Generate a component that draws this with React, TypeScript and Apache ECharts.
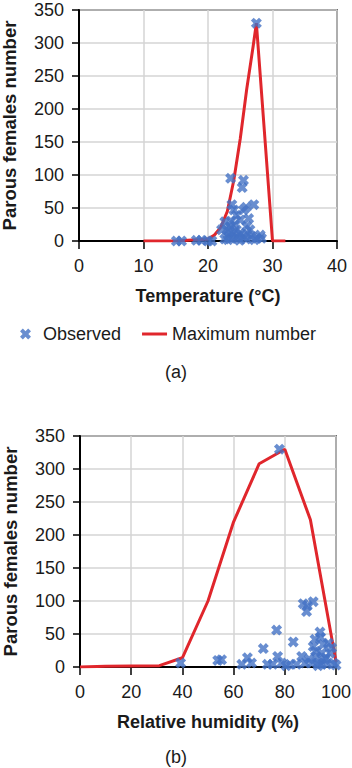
import React, { useEffect, useRef } from "react";
import * as echarts from "echarts";

const tempTicks = [0, 10, 20, 30, 40];
const humTicks = [0, 20, 40, 60, 80, 100];
const yTicks = [0, 50, 100, 150, 200, 250, 300, 350];

const tempMax: [number, number][] = [
  [10, 0], [15, 0], [20, 3], [21, 9], [22, 21], [23, 45], [24, 92],
  [25, 155], [26, 230], [27, 295], [27.5, 330], [30, 0], [32, 0],
];

const tempObs: [number, number][] = [
  [15.1, 0], [15.9, 0], [18.2, 1], [19.0, 1], [20.0, 0], [20.6, 0],
  [23.5, 95], [25.5, 92], [25.3, 81], [23.7, 55], [24.0, 47], [25.5, 47],
  [25.9, 51], [27.1, 55], [26.3, 34], [25.0, 32], [24.4, 39], [22.6, 29],
  [22.1, 17], [22.9, 17], [23.4, 22], [23.9, 12], [24.4, 17], [25.0, 12],
  [23.2, 7], [23.7, 4], [24.4, 4], [25.5, 6], [26.5, 17], [26.8, 7],
  [27.6, 4], [28.3, 4], [28.1, 9], [25.9, 3], [22.6, 3], [27.5, 330],
  [23.1, 2], [24.1, 25], [24.7, 8], [23.6, 30], [26.1, 10], [27.2, 2],
  [24.9, 1], [23.3, 14], [26.0, 22],
];

const humMax: [number, number][] = [
  [0, 0], [10, 1], [20, 1.5], [31, 2], [40, 14], [50, 100], [60, 220],
  [70, 308], [80, 330], [90, 223], [100, 8],
];

const humObs: [number, number][] = [
  [39.3, 6], [53.8, 10], [55.3, 11], [63.2, 4], [65.4, 14], [67, 6],
  [71.6, 28], [73.2, 4], [75.3, 4], [76.8, 56], [77.2, 16], [77.9, 330],
  [78.8, 6], [80.5, 2], [82, 4], [83.3, 38], [84.6, 4], [86.6, 16],
  [87.9, 6], [87.2, 96], [88.5, 84], [88.8, 93], [91.1, 99], [90.5, 6],
  [91.1, 31], [91.8, 42], [93.75, 53], [94, 45], [95, 34], [92.4, 16],
  [93.1, 6], [94.4, 21], [95.7, 11], [96.4, 4], [97.7, 21], [98.3, 29],
  [97, 36], [99, 6], [100, 3], [94.4, 4], [89.5, 12], [92, 24], [93, 2],
  [96, 14],
];

const xPath = "path://M0,2.6 L2.6,0 L5,2.4 L7.4,0 L10,2.6 L7.6,5 L10,7.4 L7.4,10 L5,7.6 L2.6,10 L0,7.4 L2.4,5 Z";
const linePath = "path://M0,0 L25,0 L25,3 L0,3 Z";
const BLUE = "#4472C4";
const RED = "#E0262C";
const FONT = "Liberation Sans";
const TXT = "#1a1a1a";

export default function App() {
  const ref = useRef<HTMLDivElement>(null);
  useEffect(() => {
    document.body.style.margin = "0";
    const chart = echarts.init(ref.current!, null, { renderer: "svg" });
    const xAxisBase = (gridIndex: number, ticks: number[], name: string) => ({
      type: "value" as const,
      gridIndex,
      min: ticks[0],
      max: ticks[ticks.length - 1],
      interval: ticks[1] - ticks[0],
      name,
      nameLocation: "middle" as const,
      nameGap: 46,
      nameTextStyle: { fontFamily: FONT, fontSize: 18, fontWeight: "bold", color: TXT },
      axisLine: { show: true, onZero: false, lineStyle: { color: "#000", width: 2 } },
      axisTick: { show: true, length: 8, lineStyle: { color: "#000", width: 1.5 } },
      axisLabel: { margin: 16, fontFamily: FONT, fontSize: 18, color: TXT },
      splitLine: { show: true, lineStyle: { color: "#d4d4d4", width: 1.5 } },
    });
    const yAxisBase = (gridIndex: number) => ({
      type: "value" as const,
      gridIndex,
      min: yTicks[0],
      max: yTicks[yTicks.length - 1],
      interval: yTicks[1] - yTicks[0],
      name: "Parous females number",
      nameLocation: "middle" as const,
      nameRotate: 90,
      nameGap: 60,
      nameTextStyle: { fontFamily: FONT, fontSize: 18.5, fontWeight: "bold", color: TXT },
      axisLine: { show: true, onZero: false, lineStyle: { color: "#000", width: 2 } },
      axisTick: { show: true, length: 7, lineStyle: { color: "#000", width: 1.5 } },
      axisLabel: { margin: 15, fontFamily: FONT, fontSize: 18, color: TXT },
      splitLine: { show: true, lineStyle: { color: "#d4d4d4", width: 1.5 } },
    });
    chart.setOption({
      animation: false,
      backgroundColor: "#fff",
      title: [
        { text: "(a)", left: "center", top: 363, padding: 0, textStyle: { fontFamily: FONT, fontSize: 18, fontWeight: "normal", color: TXT } },
        { text: "(b)", left: "center", top: 748, padding: 0, textStyle: { fontFamily: FONT, fontSize: 18, fontWeight: "normal", color: TXT } },
      ],
      legend: {
        left: 20,
        top: 325,
        padding: 0,
        itemWidth: 25,
        itemHeight: 11,
        itemGap: 21,
        symbolKeepAspect: true,
        textStyle: { fontFamily: FONT, fontSize: 18, color: TXT },
        data: [
          { name: "Observed", icon: xPath, itemStyle: { color: BLUE } },
          { name: "Maximum number", icon: linePath, itemStyle: { color: RED } },
        ],
      },
      grid: [
        { left: 79, top: 10, width: 258, height: 231, show: true, borderColor: "#000", borderWidth: 1.5, containLabel: false, outerBoundsMode: "none" },
        { left: 80, top: 436, width: 256, height: 231, show: true, borderColor: "#000", borderWidth: 1.5, containLabel: false, outerBoundsMode: "none" },
      ],
      xAxis: [
        xAxisBase(0, tempTicks, "Temperature (°C)"),
        xAxisBase(1, humTicks, "Relative humidity (%)"),
      ],
      yAxis: [yAxisBase(0), yAxisBase(1)],
      series: [
        {
          type: "line", name: "Maximum number", xAxisIndex: 0, yAxisIndex: 0,
          data: tempMax, showSymbol: false, symbol: "none",
          lineStyle: { color: RED, width: 3 }, itemStyle: { color: RED }, z: 2,
        },
        {
          type: "scatter", name: "Observed", xAxisIndex: 0, yAxisIndex: 0,
          data: tempObs, symbol: xPath, symbolSize: 11,
          itemStyle: { color: BLUE }, z: 3,
        },
        {
          type: "line", name: "Maximum number", xAxisIndex: 1, yAxisIndex: 1,
          data: humMax, showSymbol: false, symbol: "none",
          lineStyle: { color: RED, width: 3 }, itemStyle: { color: RED }, z: 2,
        },
        {
          type: "scatter", name: "Observed", xAxisIndex: 1, yAxisIndex: 1,
          data: humObs, symbol: xPath, symbolSize: 11,
          itemStyle: { color: BLUE }, z: 3,
        },
      ],
    });
    return () => chart.dispose();
  }, []);
  return <div ref={ref} style={{ width: 352, height: 768 }} />;
}
